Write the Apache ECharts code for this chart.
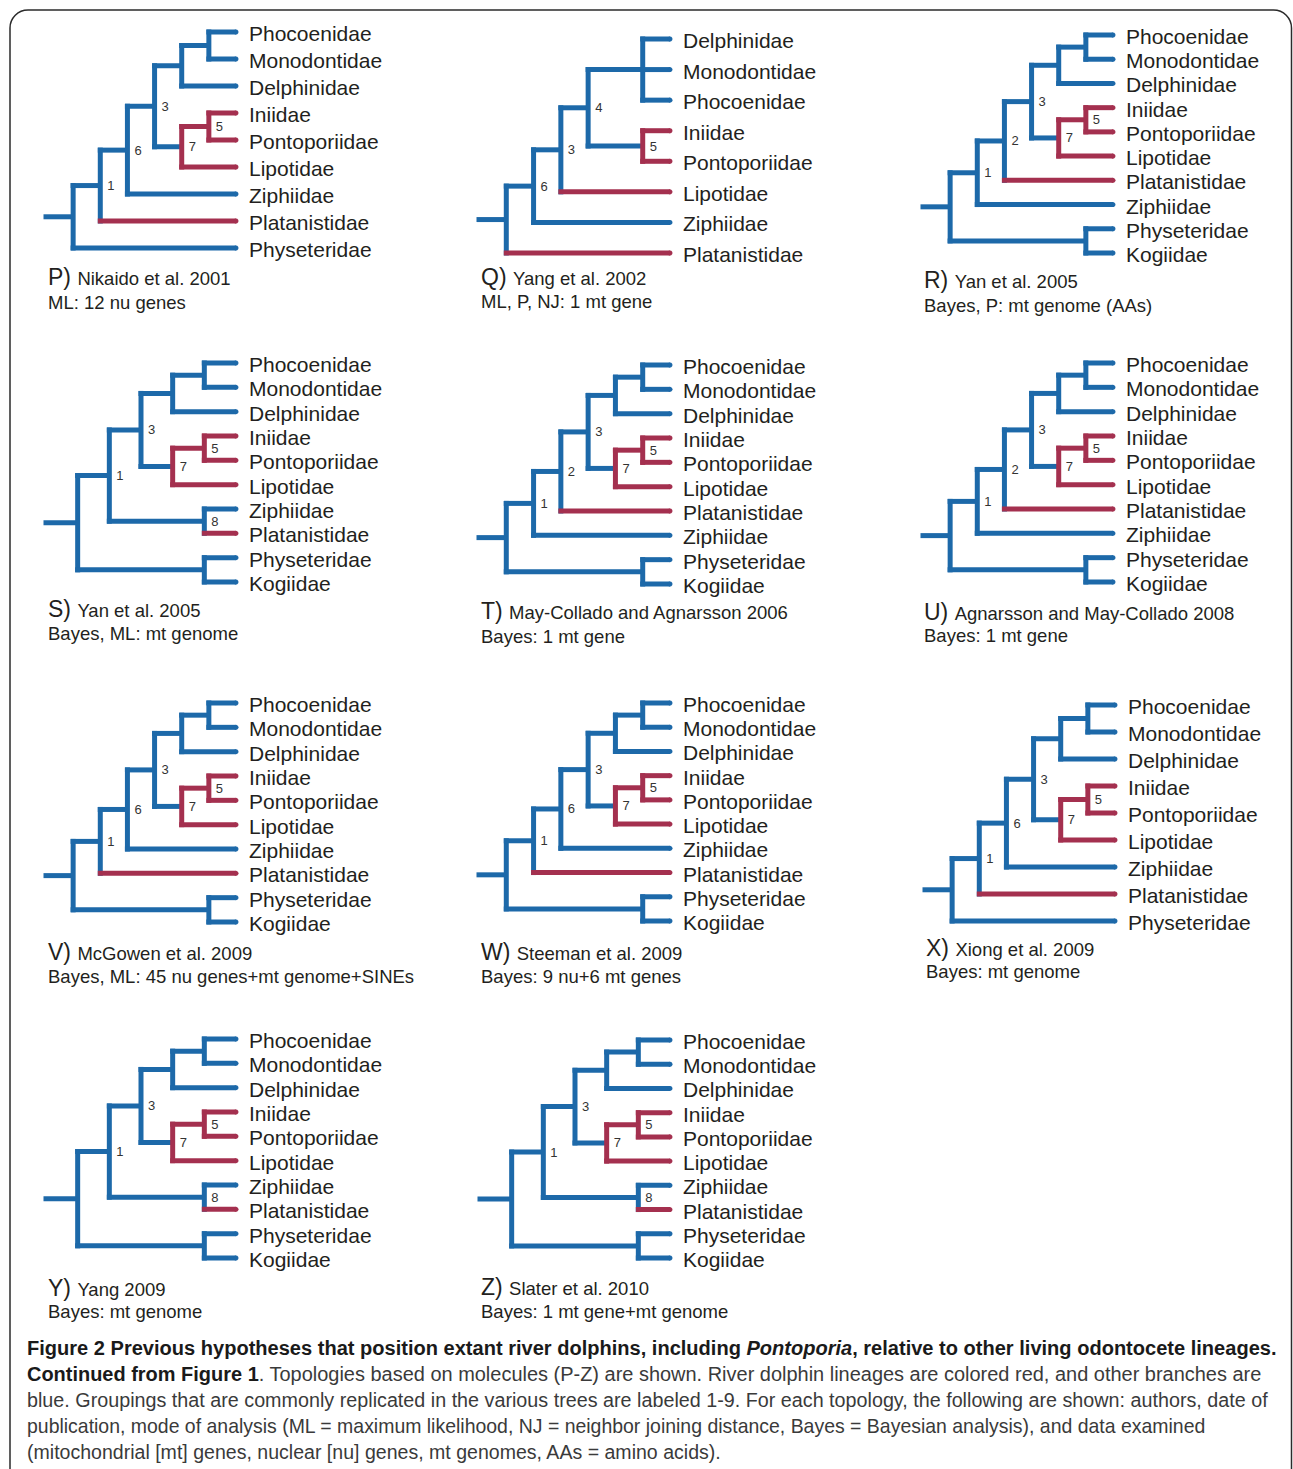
<!DOCTYPE html>
<html>
<head>
<meta charset="utf-8">
<script src="https://cdn.jsdelivr.net/npm/echarts@6/dist/echarts.min.js"></script>
<style>
html,body{margin:0;padding:0;background:#ffffff;}
#chart{width:1293px;height:1469px;}
</style>
</head>
<body>
<div id="chart"></div>
<script>
// ---------------- DATA ----------------
const panelLetters = ['P', 'Q', 'R', 'S', 'T', 'U', 'V', 'W', 'X', 'Y', 'Z'];
const panelAuthors = [
  'Nikaido et al. 2001', 'Yang et al. 2002', 'Yan et al. 2005',
  'Yan et al. 2005', 'May-Collado and Agnarsson 2006', 'Agnarsson and May-Collado 2008',
  'McGowen et al. 2009', 'Steeman et al. 2009', 'Xiong et al. 2009',
  'Yang 2009', 'Slater et al. 2010'
];
const panelMethods = [
  'ML: 12 nu genes', 'ML, P, NJ: 1 mt gene', 'Bayes, P: mt genome (AAs)',
  'Bayes, ML: mt genome', 'Bayes: 1 mt gene', 'Bayes: 1 mt gene',
  'Bayes, ML: 45 nu genes+mt genome+SINEs', 'Bayes: 9 nu+6 mt genes', 'Bayes: mt genome',
  'Bayes: mt genome', 'Bayes: 1 mt gene+mt genome'
];
// Newick topologies (internal node names = grouping numbers, ":n" = drawn branch span)
const panelTrees = [
  '((((((Phocoenidae,Monodontidae),Delphinidae),((Iniidae,Pontoporiidae)5,Lipotidae)7)3,Ziphiidae)6,Platanistidae)1,Physeteridae)',
  '(((((Delphinidae,Monodontidae,Phocoenidae):2,(Iniidae,Pontoporiidae)5)4,Lipotidae)3,Ziphiidae)6,Platanistidae)',
  '((((((Phocoenidae,Monodontidae),Delphinidae),((Iniidae,Pontoporiidae)5,Lipotidae)7)3,Platanistidae)2,Ziphiidae)1,(Physeteridae,Kogiidae))',
  '(((((Phocoenidae,Monodontidae),Delphinidae),((Iniidae,Pontoporiidae)5,Lipotidae)7)3,(Ziphiidae,Platanistidae)8)1,(Physeteridae,Kogiidae))',
  '((((((Phocoenidae,Monodontidae),Delphinidae),((Iniidae,Pontoporiidae)5,Lipotidae)7)3,Platanistidae)2,Ziphiidae)1,(Physeteridae,Kogiidae))',
  '((((((Phocoenidae,Monodontidae),Delphinidae),((Iniidae,Pontoporiidae)5,Lipotidae)7)3,Platanistidae)2,Ziphiidae)1,(Physeteridae,Kogiidae))',
  '((((((Phocoenidae,Monodontidae),Delphinidae),((Iniidae,Pontoporiidae)5,Lipotidae)7)3,Ziphiidae)6,Platanistidae)1,(Physeteridae,Kogiidae))',
  '((((((Phocoenidae,Monodontidae),Delphinidae),((Iniidae,Pontoporiidae)5,Lipotidae)7)3,Ziphiidae)6,Platanistidae)1,(Physeteridae,Kogiidae))',
  '((((((Phocoenidae,Monodontidae),Delphinidae),((Iniidae,Pontoporiidae)5,Lipotidae)7)3,Ziphiidae)6,Platanistidae)1,Physeteridae)',
  '(((((Phocoenidae,Monodontidae),Delphinidae),((Iniidae,Pontoporiidae)5,Lipotidae)7)3,(Ziphiidae,Platanistidae)8)1,(Physeteridae,Kogiidae))',
  '(((((Phocoenidae,Monodontidae),Delphinidae),((Iniidae,Pontoporiidae)5,Lipotidae)7)3,(Ziphiidae,Platanistidae)8)1,(Physeteridae,Kogiidae))'
];
const riverDolphins = ['Iniidae', 'Pontoporiidae', 'Lipotidae', 'Platanistidae'];
const captionLines = [
  [['b', 'Figure 2 Previous hypotheses that position extant river dolphins, including '], ['bi', 'Pontoporia'], ['b', ', relative to other living odontocete lineages.']],
  [['b', 'Continued from Figure 1'], ['n', '. Topologies based on molecules (P-Z) are shown. River dolphin lineages are colored red, and other branches are']],
  [['n', 'blue. Groupings that are commonly replicated in the various trees are labeled 1-9. For each topology, the following are shown: authors, date of']],
  [['n', 'publication, mode of analysis (ML = maximum likelihood, NJ = neighbor joining distance, Bayes = Bayesian analysis), and data examined']],
  [['n', '(mitochondrial [mt] genes, nuclear [nu] genes, mt genomes, AAs = amino acids).']]
];

// ---------------- LAYOUT / STYLE ----------------
// stemX, tipX, firstLeafY, lastLeafY, captionX, caption line1 baseline, line2 baseline
const panelLayout = [
  [46, 238, 32, 248, 48, 285, 309],
  [479, 672, 39, 253, 481, 285, 308],
  [923, 1115, 35, 253, 924, 288, 312],
  [46, 238, 363, 582, 48, 617, 640],
  [479, 672, 365, 584, 481, 619, 643],
  [923, 1115, 363, 582, 924, 620, 642],
  [46, 238, 703, 922, 48, 960, 983],
  [479, 672, 703, 921, 481, 960, 983],
  [925, 1117, 705, 921, 926, 956, 978],
  [46, 238, 1039, 1258, 48, 1296, 1318],
  [480, 672, 1040, 1258, 481, 1295, 1318]
];
const captionX = 27;
const captionCenters = [1349, 1375, 1401, 1427, 1453];
const captionWidths = [1250, 1235, 1241, 1179, 695];

const BLUE = '#1d69a9';
const RED = '#a4304f';
const TEXT = '#231f20';
const FONT = "'Liberation Sans', Arial, Helvetica, sans-serif";
const CAP_FONT = "'Liberation Sans Narrow', 'Liberation Sans', Arial, sans-serif";
const LW = 5;

// ---------------- TREE HELPERS ----------------
function parseNewick(s) {
  let i = 0;
  function node() {
    const n = { children: [], name: '', len: 1 };
    if (s[i] === '(') {
      i++;
      n.children.push(node());
      while (s[i] === ',') { i++; n.children.push(node()); }
      i++;
    }
    let name = '';
    while (i < s.length && ',():;'.indexOf(s[i]) < 0) name += s[i++];
    n.name = name.trim();
    if (s[i] === ':') {
      i++;
      let l = '';
      while (i < s.length && ',();'.indexOf(s[i]) < 0) l += s[i++];
      n.len = parseFloat(l);
    }
    return n;
  }
  return node();
}

function layoutTree(root) {
  const river = new Set(riverDolphins);
  function height(n) {
    if (!n.children.length) { n.h = 0; return 0; }
    n.h = Math.max.apply(null, n.children.map(c => height(c) + c.len));
    return n.h;
  }
  height(root);
  let leafIdx = 0;
  function place(n) {
    if (!n.children.length) {
      n.y = leafIdx++;
      n.red = river.has(n.name);
      return;
    }
    n.children.forEach(place);
    n.y = (n.children[0].y + n.children[n.children.length - 1].y) / 2;
    n.red = n.children.every(c => c.red);
  }
  place(root);
  const nodes = [];
  function emit(n, parent) {
    const leaf = !n.children.length;
    nodes.push({
      x: -n.h,
      y: n.y,
      px: parent ? -parent.h : -(root.h + 1),
      leaf: leaf,
      colH: leaf ? n.red : (parent ? parent.red : false),
      colV: n.red,
      yTop: leaf ? n.y : n.children[0].y,
      yBot: leaf ? n.y : n.children[n.children.length - 1].y,
      label: leaf ? '' : n.name,
      name: leaf ? n.name : ''
    });
    n.children.forEach(c => emit(c, n));
  }
  emit(root, null);
  return { nodes: nodes, height: root.h, leaves: leafIdx };
}

function makeRender(nodes) {
  return function (params, api) {
    const n = nodes[params.dataIndex];
    const a = api.coord([n.px, n.y]);
    const b = api.coord([n.x, n.y]);
    const els = [];
    els.push({
      type: 'line',
      shape: { x1: a[0] - LW / 2, y1: a[1], x2: b[0], y2: b[1] },
      style: { stroke: n.colH ? RED : BLUE, lineWidth: LW, lineCap: 'butt' }
    });
    if (n.leaf) {
      els.push({
        type: 'circle',
        shape: { cx: b[0], cy: b[1], r: LW / 2 },
        style: { fill: n.colH ? RED : BLUE }
      });
      els.push({
        type: 'text',
        x: b[0] + 13, y: b[1] + 1.5,
        style: {
          text: n.name, fontSize: 21, fontFamily: FONT, fill: TEXT,
          align: 'left', textAlign: 'left', verticalAlign: 'middle', textVerticalAlign: 'middle'
        }
      });
    } else {
      const t = api.coord([n.x, n.yTop]);
      const d = api.coord([n.x, n.yBot]);
      els.push({
        type: 'line',
        shape: { x1: t[0], y1: t[1], x2: d[0], y2: d[1] },
        style: { stroke: n.colV ? RED : BLUE, lineWidth: LW, lineCap: 'square' }
      });
      if (n.label) {
        els.push({
          type: 'text',
          x: b[0] + 7, y: b[1],
          style: {
            text: n.label, fontSize: 13, fontFamily: FONT, fill: '#333333',
            align: 'left', textAlign: 'left', verticalAlign: 'middle', textVerticalAlign: 'middle'
          }
        });
      }
    }
    return { type: 'group', children: els };
  };
}

// ---------------- MEASURE ----------------
const mctx = document.createElement('canvas').getContext('2d');
function tw(str, font) { mctx.font = font; return mctx.measureText(str).width; }
function capFont(style, size) {
  return (style.indexOf('i') >= 0 && style !== 'n' ? 'italic ' : '') +
         (style.indexOf('b') >= 0 ? 'bold ' : '') + size + 'px ' + CAP_FONT;
}
function lineWidthAt(runs, size) {
  return runs.reduce((s, r) => s + tw(r[1], capFont(r[0], size)), 0);
}

// ---------------- BUILD OPTION ----------------
const grids = [], xAxes = [], yAxes = [], series = [], graphics = [];

panelTrees.forEach((nw, i) => {
  const L = panelLayout[i];
  const tree = layoutTree(parseNewick(nw));
  const n = tree.leaves;
  const sp = (L[3] - L[2]) / (n - 1);
  grids.push({ left: L[0], top: L[2] - sp / 2, width: L[1] - L[0] - 2, height: n * sp, containLabel: false });
  xAxes.push({ type: 'value', gridIndex: i, min: -(tree.height + 1), max: 0, show: false });
  yAxes.push({ type: 'value', gridIndex: i, min: -0.5, max: n - 0.5, inverse: true, show: false });
  series.push({
    type: 'custom',
    coordinateSystem: 'cartesian2d',
    xAxisIndex: i, yAxisIndex: i,
    clip: false, silent: true, animation: false,
    encode: { x: 0, y: 1 },
    data: tree.nodes.map(d => [d.x, d.y]),
    renderItem: makeRender(tree.nodes)
  });

  // panel caption
  const letter = panelLetters[i] + ')';
  const letterFont = '23px ' + FONT;
  const authorX = L[4] + tw(letter + ' ', letterFont);
  graphics.push({
    type: 'text', x: L[4], y: L[5] - 0.3465 * 23, silent: true,
    style: { text: letter, fontSize: 23, fontFamily: FONT, fill: TEXT,
      align: 'left', textAlign: 'left', verticalAlign: 'middle', textVerticalAlign: 'middle' }
  });
  graphics.push({
    type: 'text', x: authorX, y: L[5] - 0.3465 * 18.5, silent: true,
    style: { text: panelAuthors[i], fontSize: 18.5, fontFamily: FONT, fill: TEXT,
      align: 'left', textAlign: 'left', verticalAlign: 'middle', textVerticalAlign: 'middle' }
  });
  graphics.push({
    type: 'text', x: L[4], y: L[6] - 0.3465 * 18.5, silent: true,
    style: { text: panelMethods[i], fontSize: 18.5, fontFamily: FONT, fill: TEXT,
      align: 'left', textAlign: 'left', verticalAlign: 'middle', textVerticalAlign: 'middle' }
  });
});

// figure caption
let totTarget = 0, totMeasured = 0;
captionLines.forEach((runs, k) => { totTarget += captionWidths[k]; totMeasured += lineWidthAt(runs, 20); });
let capSize = 20 * totTarget / totMeasured;
capSize = Math.max(18.5, Math.min(21, capSize));
const capRich = {
  b: { fontSize: capSize, fontFamily: CAP_FONT, fontWeight: 'bold', fill: '#1a1a1a' },
  bi: { fontSize: capSize, fontFamily: CAP_FONT, fontWeight: 'bold', fontStyle: 'italic', fill: '#1a1a1a' },
  n: { fontSize: capSize, fontFamily: CAP_FONT, fill: '#3a3a3a' }
};
captionLines.forEach((runs, k) => {
  const w = lineWidthAt(runs, capSize);
  graphics.push({
    type: 'text', x: captionX, y: captionCenters[k] - 1, scaleX: captionWidths[k] / w, silent: true,
    style: {
      text: runs.map(r => '{' + r[0] + '|' + r[1] + '}').join(''),
      rich: capRich,
      align: 'left', textAlign: 'left', verticalAlign: 'middle', textVerticalAlign: 'middle'
    }
  });
});

// frame
graphics.unshift({
  type: 'rect', silent: true,
  shape: { x: 10, y: 10, width: 1281.5, height: 1500, r: 18 },
  style: { fill: 'none', stroke: '#2b2b2b', lineWidth: 1.5 }
});

const chart = echarts.init(document.getElementById('chart'), null, { renderer: 'svg', width: 1293, height: 1469 });
chart.setOption({
  backgroundColor: '#ffffff',
  animation: false,
  grid: grids,
  xAxis: xAxes,
  yAxis: yAxes,
  series: series,
  graphic: { elements: graphics }
});
</script>
</body>
</html>
